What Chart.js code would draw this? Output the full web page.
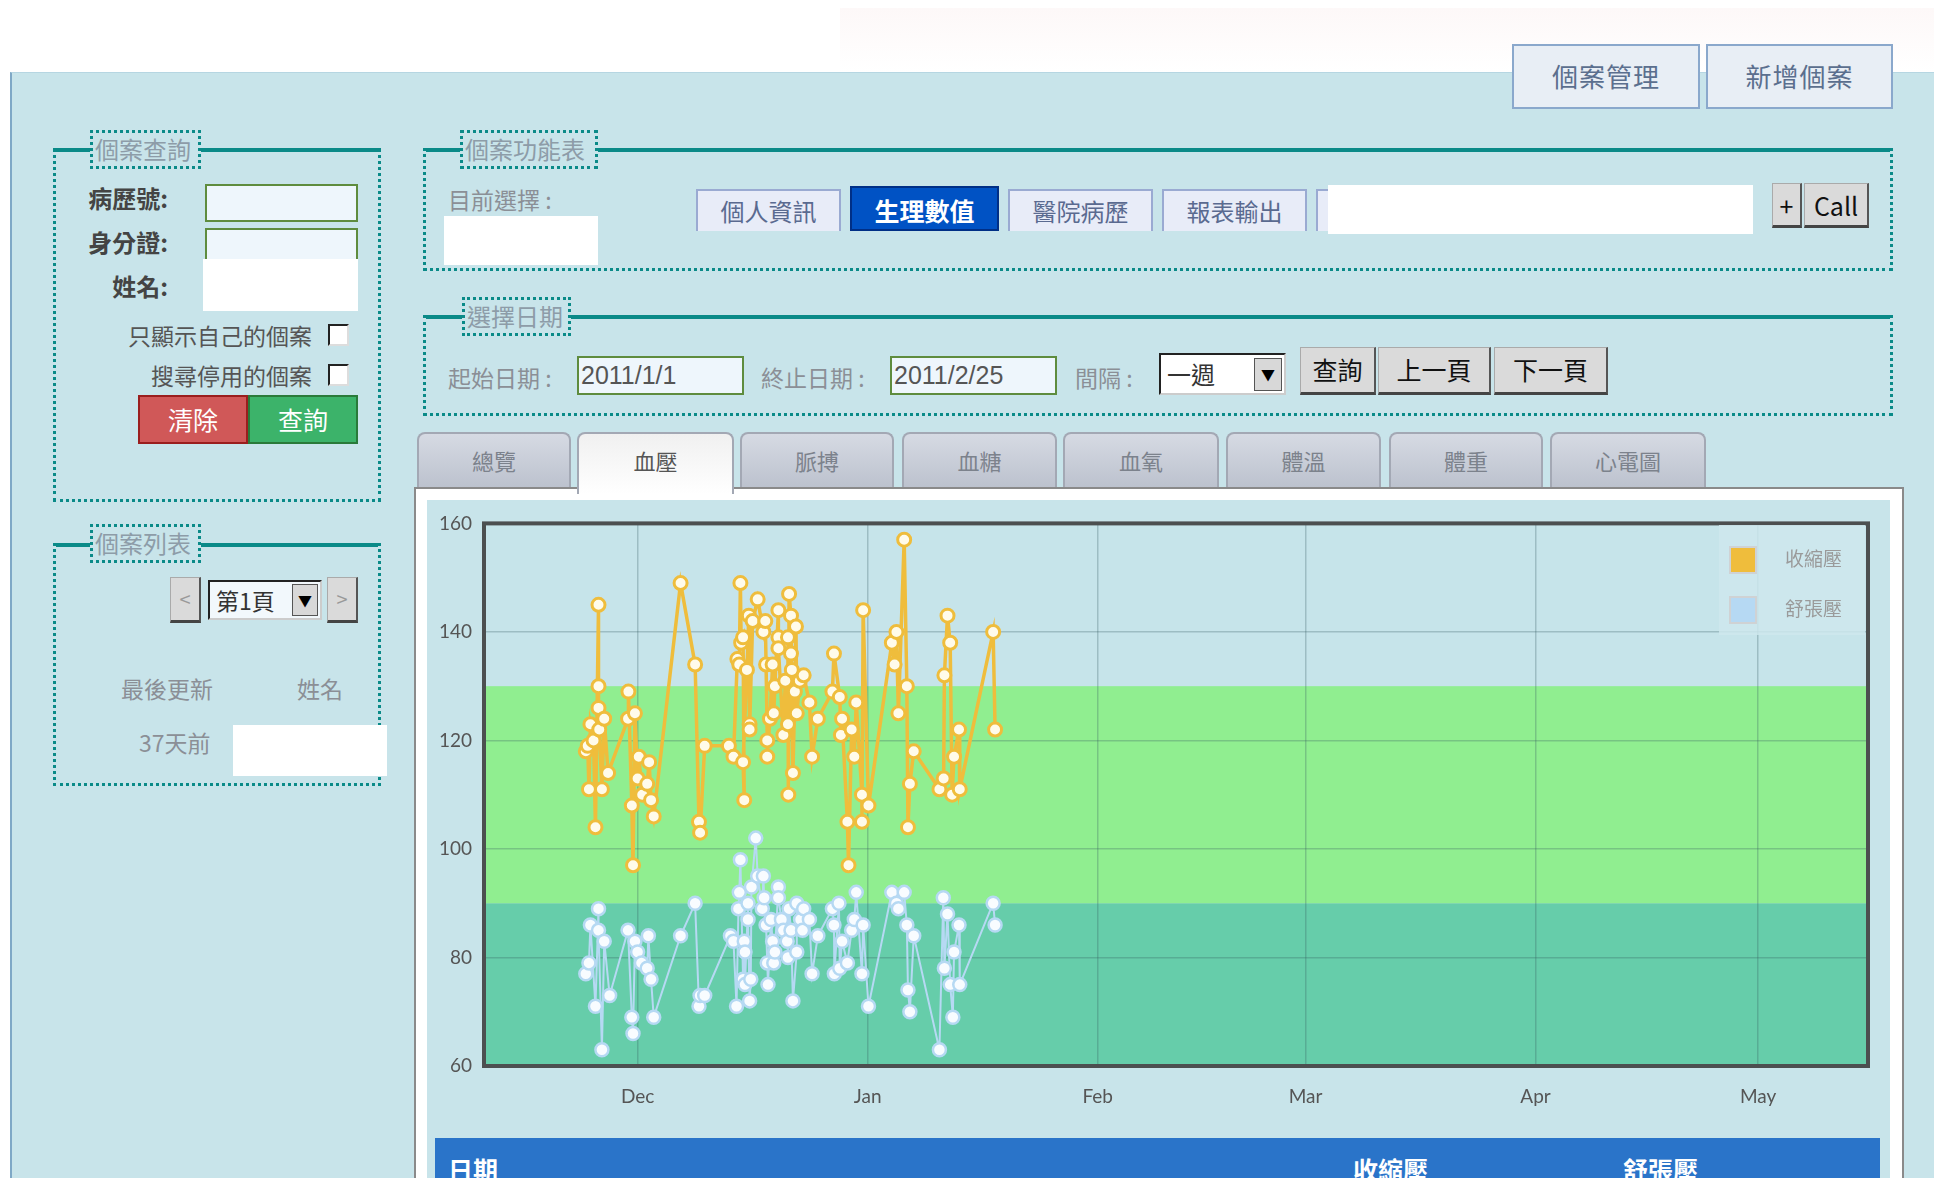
<!DOCTYPE html>
<html>
<head>
<meta charset="utf-8">
<script src="https://cdn.jsdelivr.net/npm/chart.js@4.4.1/dist/chart.umd.min.js"></script>
<style>
body { margin: 0; width: 1934px; height: 1178px; overflow: hidden; background: #fff; font-family: "Noto Sans CJK TC", "Noto Sans", sans-serif; position: relative; }
div, span { box-sizing: border-box; }
.abs { position: absolute; }
#topFade { left: 840px; top: 8px; width: 1094px; height: 64px; background: linear-gradient(#fdf8f8, #fff); }
#panel { left: 10px; top: 72px; width: 1924px; height: 1106px; background: #c8e4ea; border-left: 2px solid #7fa8c6; border-top: 1px solid #b6d6e2; }
.topBtn { top: 44px; height: 65px; background: #e8eef5; border: 2px solid #8aa8cc; color: #5b6f8e; font-size: 26px; text-align: center; line-height: 60px; letter-spacing: 1px; }
.fs { border: 3px dotted #0a8a88; border-top: 4px solid #0a8a88; }
.lg { border: 3px dotted #0a8a88; background: #c8e4ea; color: #8d9ca8; font-size: 24px; line-height: 32px; padding: 0 2px; height: 39px; white-space: nowrap; overflow: hidden; }
.lbl { font-size: 24px; color: #444; font-weight: bold; line-height: 30px; }
.gl { font-size: 23px; color: #8b8f96; line-height: 30px; white-space: nowrap; }
.inp { background: #eef6fc; border: 2px solid #5e8c3e; }
.white { background: #fff; }
.chk { width: 21px; height: 22px; background: #fff; border: 2px solid #222; border-right-color: #ddd; border-bottom-color: #ddd; }
.btn { color: #fff; font-size: 25px; text-align: center; line-height: 44px; }
.gbtn { background: #dadada; border: 1px solid #aaa; border-right: 2px solid #555; border-bottom: 3px solid #444; color: #111; font-size: 25px; text-align: center; line-height: 42px; }
.ftab { top: 189px; height: 42px; background: #e8ecf8; border: 2px solid #9aaad2; border-bottom: none; color: #5a6a90; font-size: 24px; text-align: center; line-height: 40px; }
.tab { top: 432px; height: 55px; background: linear-gradient(#d6dae3, #bcc2ce); border: 2px solid #a3a8b4; border-bottom: none; border-radius: 8px 8px 0 0; color: #7c828c; font-size: 22px; text-align: center; line-height: 52px; }
.dinp { top: 356px; height: 39px; background: #eef6fc; border: 2px solid #5e8c3e; color: #555; font-family: "Liberation Sans", sans-serif; font-size: 25px; line-height: 35px; padding-left: 2px; }
#legend { left: 1719px; top: 525px; width: 146px; height: 110px; background: rgba(206, 231, 237, 0.85); }
.litem { position: absolute; left: 10px; height: 28px; }
.lsw { position: absolute; left: 0; top: 0; width: 28px; height: 28px; border: 2px solid #cfd2d4; }
.ltx { position: absolute; left: 56px; top: -2px; font-size: 19px; color: #9a9a9a; white-space: nowrap; }
#tbar { left: 435px; top: 1138px; width: 1445px; height: 40px; background: #2a74c9; color: #fff; font-weight: bold; font-size: 25px; }
</style>
</head>
<body>
<div id="topFade" class="abs"></div>
<div id="panel" class="abs"></div>

<div class="abs topBtn" style="left:1512px;width:188px;">個案管理</div>
<div class="abs topBtn" style="left:1706px;width:187px;">新增個案</div>

<!-- left: search -->
<div class="abs fs" style="left:53px;top:148px;width:328px;height:354px;"></div>
<div class="abs lg" style="left:90px;top:130px;width:111px;">個案查詢</div>
<div class="abs lbl" style="left:60px;top:183px;width:108px;text-align:right;">病歷號:</div>
<div class="abs inp" style="left:205px;top:184px;width:153px;height:38px;"></div>
<div class="abs lbl" style="left:60px;top:227px;width:108px;text-align:right;">身分證:</div>
<div class="abs inp" style="left:205px;top:228px;width:153px;height:38px;"></div>
<div class="abs white" style="left:203px;top:259px;width:155px;height:52px;"></div>
<div class="abs lbl" style="left:60px;top:271px;width:108px;text-align:right;">姓名:</div>
<div class="abs gl" style="left:90px;top:320px;width:222px;text-align:right;color:#555;">只顯示自己的個案</div>
<div class="abs chk" style="left:328px;top:324px;"></div>
<div class="abs gl" style="left:90px;top:360px;width:222px;text-align:right;color:#555;">搜尋停用的個案</div>
<div class="abs chk" style="left:328px;top:364px;"></div>
<div class="abs btn" style="left:138px;top:395px;width:110px;height:49px;background:#d05858;border:2px solid #9a1e1e;">清除</div>
<div class="abs btn" style="left:248px;top:395px;width:110px;height:49px;background:#3cb36a;border:2px solid #2a7a3a;">查詢</div>

<!-- left: list -->
<div class="abs fs" style="left:53px;top:543px;width:328px;height:243px;"></div>
<div class="abs lg" style="left:90px;top:524px;width:111px;">個案列表</div>
<div class="abs gbtn" style="left:170px;top:577px;width:31px;height:46px;color:#999;font-size:20px;">&lt;</div>
<div class="abs" style="left:208px;top:580px;width:114px;height:40px;background:#f2f8fc;border:2px solid #222;border-right-color:#ccc;border-bottom-color:#ccc;font-size:23px;line-height:36px;padding-left:6px;color:#333;">第1頁</div>
<div class="abs" style="left:292px;top:584px;width:26px;height:32px;background:#d8d8d8;border:1px solid #555;font-size:14px;text-align:center;line-height:30px;">▼</div>
<div class="abs gbtn" style="left:327px;top:577px;width:31px;height:46px;color:#999;font-size:20px;">&gt;</div>
<div class="abs gl" style="left:121px;top:673px;">最後更新</div>
<div class="abs gl" style="left:297px;top:673px;">姓名</div>
<div class="abs gl" style="left:139px;top:727px;">37天前</div>
<div class="abs white" style="left:233px;top:725px;width:154px;height:51px;"></div>

<!-- right: function menu -->
<div class="abs fs" style="left:423px;top:148px;width:1470px;height:123px;"></div>
<div class="abs lg" style="left:460px;top:130px;width:138px;">個案功能表</div>
<div class="abs gl" style="left:448px;top:184px;">目前選擇 :</div>
<div class="abs white" style="left:444px;top:216px;width:154px;height:49px;"></div>
<div class="abs ftab" style="left:696px;width:145px;">個人資訊</div>
<div class="abs ftab" style="left:850px;top:186px;width:149px;height:45px;background:#0052c4;border:2px solid #002f86;color:#fff;font-weight:bold;font-size:25px;line-height:44px;">生理數值</div>
<div class="abs ftab" style="left:1008px;width:145px;">醫院病歷</div>
<div class="abs ftab" style="left:1162px;width:145px;">報表輸出</div>
<div class="abs ftab" style="left:1316px;width:40px;"></div>
<div class="abs white" style="left:1328px;top:185px;width:425px;height:49px;"></div>
<div class="abs gbtn" style="left:1772px;top:183px;width:30px;height:45px;">+</div>
<div class="abs gbtn" style="left:1804px;top:183px;width:65px;height:45px;">Call</div>

<!-- right: date -->
<div class="abs fs" style="left:423px;top:315px;width:1470px;height:101px;"></div>
<div class="abs lg" style="left:462px;top:297px;width:109px;">選擇日期</div>
<div class="abs gl" style="left:448px;top:362px;">起始日期 :</div>
<div class="abs dinp" style="left:577px;width:167px;">2011/1/1</div>
<div class="abs gl" style="left:761px;top:362px;">終止日期 :</div>
<div class="abs dinp" style="left:890px;width:167px;">2011/2/25</div>
<div class="abs gl" style="left:1075px;top:362px;">間隔 :</div>
<div class="abs" style="left:1159px;top:353px;width:127px;height:42px;background:#fff;border:2px solid #222;border-right-color:#ccc;border-bottom-color:#ccc;font-size:24px;line-height:38px;padding-left:6px;color:#333;">一週</div>
<div class="abs" style="left:1254px;top:358px;width:28px;height:33px;background:#d8d8d8;border:1px solid #555;font-size:14px;text-align:center;line-height:31px;">▼</div>
<div class="abs gbtn" style="left:1300px;top:347px;width:76px;height:48px;">查詢</div>
<div class="abs gbtn" style="left:1378px;top:347px;width:113px;height:48px;">上一頁</div>
<div class="abs gbtn" style="left:1494px;top:347px;width:114px;height:48px;">下一頁</div>

<!-- tabs -->
<div class="abs" style="left:414px;top:487px;width:1490px;height:700px;background:#fff;border:2px solid #8a8a8a;border-bottom:none;"></div>
<div class="abs tab" style="left:417px;width:154px;">總覽</div>
<div class="abs tab" style="left:577px;width:157px;height:62px;background:linear-gradient(#f0f0f0,#fff);color:#555;">血壓</div>
<div class="abs tab" style="left:740px;width:154px;">脈搏</div>
<div class="abs tab" style="left:902px;width:155px;">血糖</div>
<div class="abs tab" style="left:1063px;width:156px;">血氧</div>
<div class="abs tab" style="left:1226px;width:155px;">體溫</div>
<div class="abs tab" style="left:1389px;width:154px;">體重</div>
<div class="abs tab" style="left:1550px;width:156px;">心電圖</div>
<div class="abs" style="left:427px;top:500px;width:1463px;height:700px;background:#c8e4ea;"></div>

<canvas id="bpChart" class="abs" width="1463" height="620" style="left:427px;top:500px;"></canvas>
<div id="legend" class="abs"></div>

<div id="tbar" class="abs">
  <span class="abs" style="left:13px;top:13px;">日期</span>
  <span class="abs" style="left:918px;top:13px;">收縮壓</span>
  <span class="abs" style="left:1188px;top:13px;">舒張壓</span>
</div>

<script>
// x values are days counted from 2010/12/1
let monthLabels = ['Dec', 'Jan', 'Feb', 'Mar', 'Apr', 'May'];
let monthDays = [0, 31, 62, 90, 121, 151];
let yTicks = [60, 80, 100, 120, 140, 160];
let bandLimits = [60, 90, 130];
let seriesNames = ['收縮壓', '舒張壓'];

let sysDays = [
    -6.98, -6.72, -6.56, -6.36, -5.94, -5.68, -5.27, -5.27, -5.27, -5.17, -4.81, -4.5, -3.98,
    -1.29, -1.24, -0.78, -0.62, -0.36, 0, 0.16, 0.62, 1.29, 1.55, 1.81, 2.17,
    5.79, 7.75, 8.27, 8.42, 9.04,
    12.3, 12.92, 13.44, 13.7, 13.85, 13.95, 14.21, 14.37, 14.21, 14.73, 14.99, 15.09, 15.09, 15.5, 16.18,
    16.95, 17.21, 17.31, 17.47, 17.47, 17.83, 18.19, 18.35, 18.5, 18.97, 18.97, 18.97, 19.64, 19.9, 20.26,
    20.26, 20.31, 20.41, 20.67, 20.67, 20.78, 20.93, 21.19, 21.34, 21.45, 21.86, 22.38, 23.15, 23.51, 24.29,
    26.25, 26.46, 27.24, 27.39, 27.55, 28.27, 28.42, 28.84, 29.2, 29.46, 30.23, 30.23, 30.39, 31.11,
    34.26, 34.63, 34.88, 35.14, 35.92, 36.28, 36.43, 36.69, 37.21,
    40.67, 41.24, 41.34, 41.76, 42.12, 42.38, 42.64, 43.31, 43.41,
    47.91, 48.17
];
let sysValues = [
    118, 119, 111, 123, 120, 104, 145, 130, 126, 122, 111, 124, 114,
    124, 129, 108, 97, 125, 113, 117, 110, 112, 116, 109, 106,
    149, 134, 105, 103, 119,
    119, 117, 135, 134, 149, 138, 139, 109, 116, 133, 143, 123, 122, 142, 146,
    140, 142, 134, 120, 117, 124, 134, 125, 130, 144, 139, 137, 121, 131, 123,
    139, 110, 147, 143, 136, 133, 114, 129, 141, 125, 131, 132, 127, 117, 124,
    129, 136, 128, 121, 124, 105, 97, 122, 117, 127, 110, 105, 144, 108,
    138, 134, 140, 125, 157, 130, 104, 112, 118,
    111, 113, 132, 143, 138, 110, 117, 122, 111,
    140, 122
];

let diaDays = [
    -6.98, -6.56, -6.36, -5.68, -5.27, -5.27, -4.81, -4.5, -3.77,
    -1.29, -0.78, -0.62, -0.36, 0, 0.52, 1.29, 1.45, 1.81, 2.17,
    5.79, 7.75, 8.27, 8.42, 9.04,
    12.51, 12.92, 13.33, 13.59, 13.7, 13.85, 14.21, 14.37, 14.47, 14.47, 14.88, 14.88, 15.09, 15.25, 15.34, 15.92, 16.18,
    16.8, 16.95, 17.05, 17.31, 17.47, 17.57, 17.98, 18.19, 18.35, 18.5, 18.97, 18.97, 19.38, 19.64,
    20.16, 20.26, 20.41, 20.67, 20.93, 21.45, 21.45, 21.96, 22.22, 22.38, 23.15, 23.51, 24.29,
    26.25, 26.46, 26.51, 27.13, 27.24, 27.55, 28.27, 28.84, 29.2, 29.46, 30.23, 30.39, 31.11,
    34.26, 34.88, 35.14, 35.92, 36.28, 36.43, 36.69, 37.21,
    40.67, 41.19, 41.34, 41.76, 42.12, 42.48, 42.64, 43.31, 43.41,
    47.91, 48.17
];
let diaValues = [
    77, 79, 86, 71, 89, 85, 63, 83, 73,
    85, 69, 66, 83, 81, 79, 78, 84, 76, 69,
    84, 90, 71, 73, 73,
    84, 83, 71, 89, 92, 98, 76, 83, 81, 75, 90, 87, 72, 76, 93, 102, 95,
    89, 95, 91, 86, 79, 75, 87, 83, 79, 81, 93, 91, 87, 85,
    83, 80, 89, 85, 72, 81, 90, 87, 85, 89, 87, 77, 84,
    89, 86, 77, 90, 78, 83, 79, 85, 87, 92, 77, 86, 71,
    92, 90, 89, 92, 86, 74, 70, 84,
    63, 91, 78, 88, 75, 69, 81, 86, 75,
    90, 86
];

let sysColor = '#efbd3c';
let diaColor = '#b6d9f3';

function toPoints(days, values) {
    let pts = [];
    for (let i = 0; i < days.length; i++) {
        pts.push({ x: days[i], y: values[i] });
    }
    return pts;
}

let bandsPlugin = {
    id: 'bands',
    beforeDraw(chart) {
        let ctx = chart.ctx;
        let a = chart.chartArea;
        let y = chart.scales.y;
        let colors = ['#66cdaa', '#90ee90'];
        ctx.save();
        ctx.fillStyle = '#c6e4ea';
        ctx.fillRect(a.left, a.top, a.right - a.left, a.bottom - a.top);
        for (let i = 0; i < bandLimits.length - 1; i++) {
            let top = y.getPixelForValue(bandLimits[i + 1]);
            let bottom = y.getPixelForValue(bandLimits[i]);
            ctx.fillStyle = colors[i];
            ctx.fillRect(a.left, top, a.right - a.left, bottom - top);
        }
        ctx.restore();
    },
    afterDraw(chart) {
        let ctx = chart.ctx;
        let a = chart.chartArea;
        ctx.save();
        ctx.strokeStyle = '#4c4f50';
        ctx.lineWidth = 4;
        ctx.strokeRect(a.left, a.top, a.right - a.left, a.bottom - a.top);
        ctx.restore();
    }
};

let ctx = document.getElementById('bpChart').getContext('2d');
let bpChart = new Chart(ctx, {
    type: 'line',
    data: {
        datasets: [{
            label: seriesNames[0],
            data: toPoints(sysDays, sysValues),
            borderColor: sysColor,
            backgroundColor: sysColor,
            borderWidth: 3.5,
            pointRadius: 6.5,
            pointBorderWidth: 3,
            pointBackgroundColor: '#fffbea',
            pointBorderColor: sysColor,
            tension: 0
        }, {
            label: seriesNames[1],
            data: toPoints(diaDays, diaValues),
            borderColor: diaColor,
            backgroundColor: diaColor,
            borderWidth: 2,
            pointRadius: 6.5,
            pointBorderWidth: 2.5,
            pointBackgroundColor: '#f8fcff',
            pointBorderColor: diaColor,
            tension: 0
        }]
    },
    options: {
        responsive: false,
        animation: false,
        layout: { padding: { top: 23, right: 22, left: 0, bottom: 0 } },
        plugins: { legend: { display: false }, tooltip: { enabled: false } },
        scales: {
            x: {
                type: 'linear',
                min: -20.7,
                max: 165.8,
                afterBuildTicks: (axis) => { axis.ticks = monthDays.map(v => ({ value: v })); },
                afterFit: (axis) => { axis.height = 54; },
                border: { display: false },
                grid: { color: 'rgba(50, 90, 95, 0.28)', lineWidth: 1.5, drawTicks: false },
                ticks: {
                    padding: 19,
                    color: '#555',
                    font: { family: 'Lato', size: 19 },
                    callback: (value) => monthLabels[monthDays.indexOf(value)]
                }
            },
            y: {
                min: yTicks[0],
                max: yTicks[yTicks.length - 1],
                afterBuildTicks: (axis) => { axis.ticks = yTicks.map(v => ({ value: v })); },
                afterFit: (axis) => { axis.width = 57; },
                border: { display: false },
                grid: { color: 'rgba(50, 90, 95, 0.28)', lineWidth: 1.5, drawTicks: false },
                ticks: {
                    padding: 12,
                    color: '#555',
                    font: { family: 'Lato', size: 19 }
                }
            }
        }
    },
    plugins: [bandsPlugin]
});

let legendEl = document.getElementById('legend');
bpChart.data.datasets.forEach(function (ds, i) {
    let item = document.createElement('div');
    item.className = 'litem';
    item.style.top = (21 + i * 50) + 'px';
    item.innerHTML = '<span class="lsw" style="background:' + ds.borderColor + '"></span><span class="ltx">' + ds.label + '</span>';
    legendEl.appendChild(item);
});
</script>
</body>
</html>
